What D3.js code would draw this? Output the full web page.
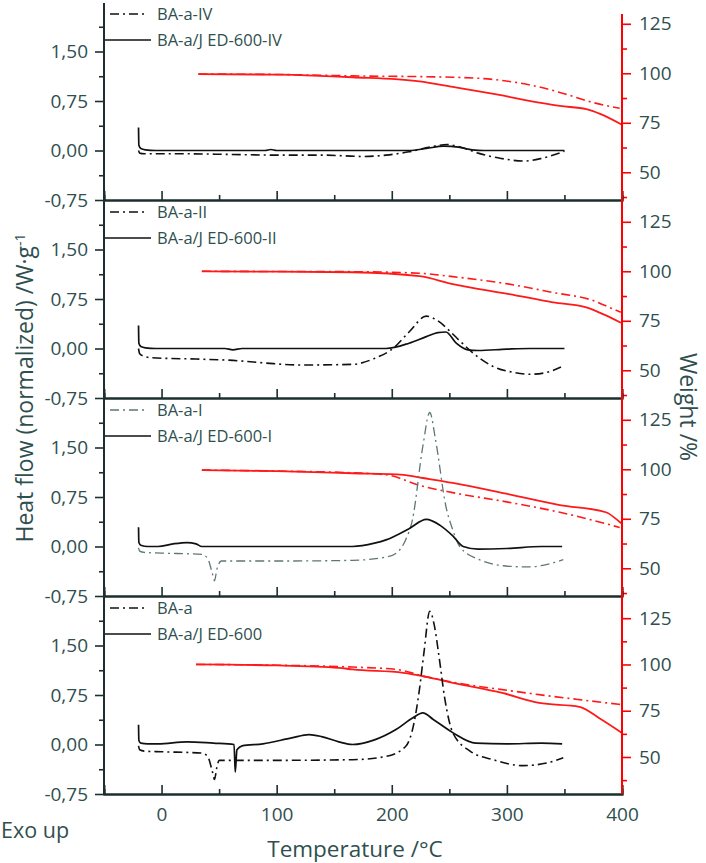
<!DOCTYPE html>
<html>
<head>
<meta charset="utf-8">
<script src="https://cdn.jsdelivr.net/npm/d3@7"></script>
<style>
  body { margin: 0; background: #fff; }
  svg text { font-family: "Open Sans", "Noto Sans", sans-serif; fill: #2f4f4f; }
</style>
</head>
<body>
<div id="chart"></div>
<script>
// tick values
var tempTicks = [0, 100, 200, 300, 400];
var tempMinor = [50, 150, 250, 350];
var hfTicks = [-0.75, 0, 0.75, 1.5];
var hfMinor = [-0.375, 0.375, 1.125, 1.875];
var wtTicks = [50, 75, 100, 125];
var wtMinor = [37.5, 62.5, 87.5, 112.5];

// legend labels, top panel to bottom panel
var legendBA = ['BA-a-IV', 'BA-a-II', 'BA-a-I', 'BA-a'];
var legendJED = ['BA-a/J ED-600-IV', 'BA-a/J ED-600-II', 'BA-a/J ED-600-I', 'BA-a/J ED-600'];

// right axis range of each panel
var wtDomains = [[36, 136], [36, 136], [36, 136], [30, 137]];

// DSC heat flow [temperature, W/g]
var hfJedIV = [[-20,0.35],[-19.7,0.08],[-18,0.03],[-14,0.01],[-5,0],[50,0],[90,0],[95,0.015],[100,0],[150,0],[215,0],[230,0.03],[245,0.065],[258,0.05],[270,0.01],[280,0],[350,0]];
var hfBaIV = [[-20,0],[-19,-0.04],[-15,-0.05],[20,-0.05],[60,-0.06],[100,-0.07],[140,-0.07],[175,-0.09],[195,-0.07],[215,-0.02],[235,0.06],[248,0.09],[260,0.05],[275,-0.04],[295,-0.12],[315,-0.16],[330,-0.12],[350,-0.01]];
var hfJedII = [[-20,0.35],[-19.7,0.08],[-18,0.03],[-14,0.01],[-5,0],[55,0],[62,-0.02],[70,0],[195,0],[215,0.08],[230,0.18],[240,0.24],[247,0.25],[256,0.08],[266,-0.02],[275,-0.03],[300,-0.01],[320,0],[350,0]];
var hfBaII = [[-20,0],[-19,-0.08],[-15,-0.12],[-9,-0.14],[30,-0.16],[62,-0.18],[90,-0.22],[120,-0.25],[166,-0.24],[185,-0.15],[201,0],[215,0.25],[230,0.49],[240,0.42],[250,0.27],[260,0.1],[268,-0.03],[289,-0.28],[305,-0.36],[321,-0.39],[335,-0.36],[347,-0.28]];
var hfJedI = [[-20,0.29],[-19.7,0.06],[-18,0.02],[-12,0],[-3,0],[10,0.04],[22,0.06],[30,0.04],[35,0],[100,0],[166,0],[185,0.05],[195,0.1],[215,0.27],[230,0.41],[242,0.32],[253,0.16],[262,0],[275,-0.04],[300,-0.03],[330,0],[348,0]];
var hfBaI = [[-20,-0.02],[-19,-0.07],[-15,-0.09],[0,-0.1],[35,-0.12],[40,-0.18],[44,-0.4],[46,-0.52],[48,-0.35],[52,-0.22],[100,-0.22],[166,-0.21],[195,-0.16],[204,-0.1],[212,0.1],[218,0.41],[227,1.52],[233,2.03],[238,1.62],[247,0.61],[253,0.25],[259,0],[276,-0.2],[302,-0.3],[320,-0.31],[335,-0.27],[349,-0.2]];
var hfJedA = [[-20,0.3],[-19.7,0.06],[-18,0.02],[-12,0.01],[-3,0.01],[22,0.04],[45,0.02],[63,0],[64,-0.42],[65.5,-0.08],[70,-0.02],[88,0.01],[113,0.1],[128,0.15],[139,0.12],[154,0.04],[166,0],[185,0.07],[204,0.23],[218,0.4],[227,0.48],[236,0.38],[253,0.18],[273,0.02],[300,0.01],[330,0.02],[348,0.01]];
var hfBaA = [[-20,-0.02],[-19,-0.08],[-15,-0.1],[0,-0.11],[35,-0.13],[40,-0.18],[44,-0.4],[46,-0.53],[48,-0.35],[50,-0.24],[100,-0.24],[166,-0.23],[195,-0.18],[212,-0.03],[219,0.3],[224,0.83],[228,1.4],[233,2.02],[237,1.8],[241,1.34],[246,0.7],[253,0.18],[268,-0.1],[288,-0.23],[314,-0.32],[335,-0.28],[349,-0.2]];

// TGA weight [temperature, %]
var wtJedIV = [[32,99.6],[100,99.3],[166,98],[224,95.9],[253,93.1],[291,89.3],[328,85.2],[346,83.5],[369,81.9],[381,79.5],[400,74]];
var wtBaIV = [[32,99.6],[100,99.4],[166,98.7],[253,98],[291,96.7],[328,93.1],[352,89.3],[375,85.2],[398,82.3]];
var wtJedII = [[35,100],[100,99.8],[166,99.5],[224,97.5],[253,93.5],[302,88.5],[340,84.3],[369,81.8],[386,77.7],[399,74]];
var wtBaII = [[35,100],[100,99.9],[166,99.8],[224,99],[253,97.3],[302,93.5],[340,89.3],[375,85.2],[392,81],[399,79.3]];
var wtJedI = [[35,99.6],[100,99.1],[166,98],[210,97.2],[227,95.6],[253,93.1],[302,87.3],[346,81.9],[386,78.3],[398,73.4],[400,72.5]];
var wtBaI = [[35,99.6],[100,99.1],[166,98.2],[195,97.2],[227,91.4],[253,88.2],[302,83.3],[346,78.3],[398,70.6]];
var wtJedA = [[30,100],[100,99.5],[154,98.2],[166,97.3],[210,95.5],[230,93.3],[253,90.1],[296,84.6],[328,79.2],[363,77.1],[380,71.1],[400,63]];
var wtBaA = [[30,100],[100,99.6],[166,98.6],[204,97.3],[230,93.3],[253,90.4],[296,86.4],[328,83.7],[363,81],[400,78.3]];

var hfJed = [hfJedIV, hfJedII, hfJedI, hfJedA];
var hfBa = [hfBaIV, hfBaII, hfBaI, hfBaA];
var wtJed = [wtJedIV, wtJedII, wtJedI, wtJedA];
var wtBa = [wtBaIV, wtBaII, wtBaI, wtBaA];

//layout
var width = 706, height = 863;
var left = 104, right = 622;
var panelTop = 2, panelH = 198;
var axisColor = '#1c2e2e';
var dashDot = '9,4,2,4';

var svg = d3.select('#chart').append('svg')
  .attr('width', width)
  .attr('height', height);

var x = d3.scaleLinear().domain([-50, 400]).range([left, right]);
//comma decimals and a plain hyphen for negatives
var fmtComma = function(d) { return d3.format('.2f')(d).replace('.', ',').replace('\u2212', '-'); };

legendBA.forEach(function(name, i) {
  var top = panelTop + i * panelH;
  var bottom = top + panelH;
  var y = d3.scaleLinear().domain([-0.75, 2.25]).range([bottom, top]);
  var yW = d3.scaleLinear().domain(wtDomains[i]).range([bottom, top]);
  var g = svg.append('g');
  var baColor = i === 2 ? '#5f7676' : '#111';
  var baWidth = i === 2 ? 1.3 : 1.6;

  //left axis ticks
  var la = g.append('g').attr('transform', 'translate(' + left + ',0)')
    .call(d3.axisLeft(y).tickValues(hfTicks).tickSize(9).tickPadding(7).tickFormat(fmtComma));
  la.append('g').call(d3.axisLeft(y).tickValues(hfMinor).tickSize(5).tickFormat(''));
  la.selectAll('.domain').remove();
  la.selectAll('line').attr('stroke', axisColor).attr('stroke-width', 1.6);
  la.selectAll('text').style('font-size', '19px').attr('fill', '#2f4f4f');

  //right axis ticks
  var ra = g.append('g').attr('transform', 'translate(' + right + ',0)')
    .call(d3.axisRight(yW).tickValues(wtTicks).tickSize(9).tickPadding(8));
  ra.append('g').call(d3.axisRight(yW).tickValues(wtMinor).tickSize(5).tickFormat(''));
  ra.selectAll('.domain').remove();
  ra.selectAll('line').attr('stroke', '#ff0000').attr('stroke-width', 1.6);
  ra.selectAll('text').style('font-size', '19px').attr('fill', '#2f4f4f');

  //bottom axis, ticks pointing inward
  var xa = g.append('g').attr('transform', 'translate(0,' + bottom + ')')
    .call(d3.axisBottom(x).tickValues(tempTicks).tickSize(-9).tickPadding(14)
      .tickFormat(i === 3 ? d3.format('d') : ''));
  xa.append('g').call(d3.axisBottom(x).tickValues(tempMinor).tickSize(-5).tickFormat(''));
  xa.selectAll('.domain').attr('stroke', axisColor).attr('stroke-width', 2);
  xa.selectAll('line').attr('stroke', axisColor).attr('stroke-width', 1.6);
  xa.selectAll('text').style('font-size', '19px').attr('fill', '#2f4f4f');

  //curves
  var hfLine = d3.line().x(function(d) { return x(d[0]); }).y(function(d) { return y(d[1]); })
    .curve(d3.curveMonotoneX);
  var wtLine = d3.line().x(function(d) { return x(d[0]); }).y(function(d) { return yW(d[1]); })
    .curve(d3.curveMonotoneX);

  g.append('path').datum(wtBa[i]).attr('d', wtLine)
    .attr('fill', 'none').attr('stroke', '#ff1a1a').attr('stroke-width', 1.6)
    .attr('stroke-dasharray', dashDot);
  g.append('path').datum(wtJed[i]).attr('d', wtLine)
    .attr('fill', 'none').attr('stroke', '#ff1a1a').attr('stroke-width', 1.8);
  g.append('path').datum(hfBa[i]).attr('d', hfLine)
    .attr('fill', 'none').attr('stroke', baColor).attr('stroke-width', baWidth)
    .attr('stroke-dasharray', dashDot);
  g.append('path').datum(hfJed[i]).attr('d', hfLine)
    .attr('fill', 'none').attr('stroke', '#111').attr('stroke-width', 1.7);

  //legend
  g.append('line').attr('x1', left + 6).attr('x2', left + 44)
    .attr('y1', top + 12).attr('y2', top + 12)
    .attr('stroke', baColor).attr('stroke-width', baWidth).attr('stroke-dasharray', dashDot);
  g.append('text').attr('x', left + 53).attr('y', top + 12).attr('dy', '0.35em')
    .style('font-size', '16.5px').text(name);
  g.append('line').attr('x1', left).attr('x2', left + 47)
    .attr('y1', top + 38).attr('y2', top + 38)
    .attr('stroke', '#111').attr('stroke-width', 1.6);
  g.append('text').attr('x', left + 53).attr('y', top + 38).attr('dy', '0.35em')
    .style('font-size', '16.5px').text(legendJED[i]);
});

var plotBottom = panelTop + 4 * panelH;

//axis lines
svg.append('line').attr('x1', left).attr('x2', left).attr('y1', 3).attr('y2', plotBottom)
  .attr('stroke', axisColor).attr('stroke-width', 2);
svg.append('line').attr('x1', right).attr('x2', right).attr('y1', 14).attr('y2', plotBottom)
  .attr('stroke', '#ff0000').attr('stroke-width', 2);

//axis titles
var leftTitle = svg.append('text')
  .attr('transform', 'translate(33,388) rotate(-90)')
  .attr('text-anchor', 'middle')
  .style('font-size', '23px');
leftTitle.append('tspan').text('Heat flow (normalized) /W·g');
leftTitle.append('tspan').attr('dy', '-0.55em').style('font-size', '14px').text('-1');

svg.append('text')
  .attr('transform', 'translate(680,407) rotate(90)')
  .attr('text-anchor', 'middle')
  .style('font-size', '23px')
  .text('Weight /%');

svg.append('text').attr('x', 355).attr('y', 857)
  .attr('text-anchor', 'middle').style('font-size', '22.5px')
  .text('Temperature /°C');

svg.append('text').attr('x', 1).attr('y', 838)
  .style('font-size', '21.5px')
  .text('Exo up');
</script>
</body>
</html>
